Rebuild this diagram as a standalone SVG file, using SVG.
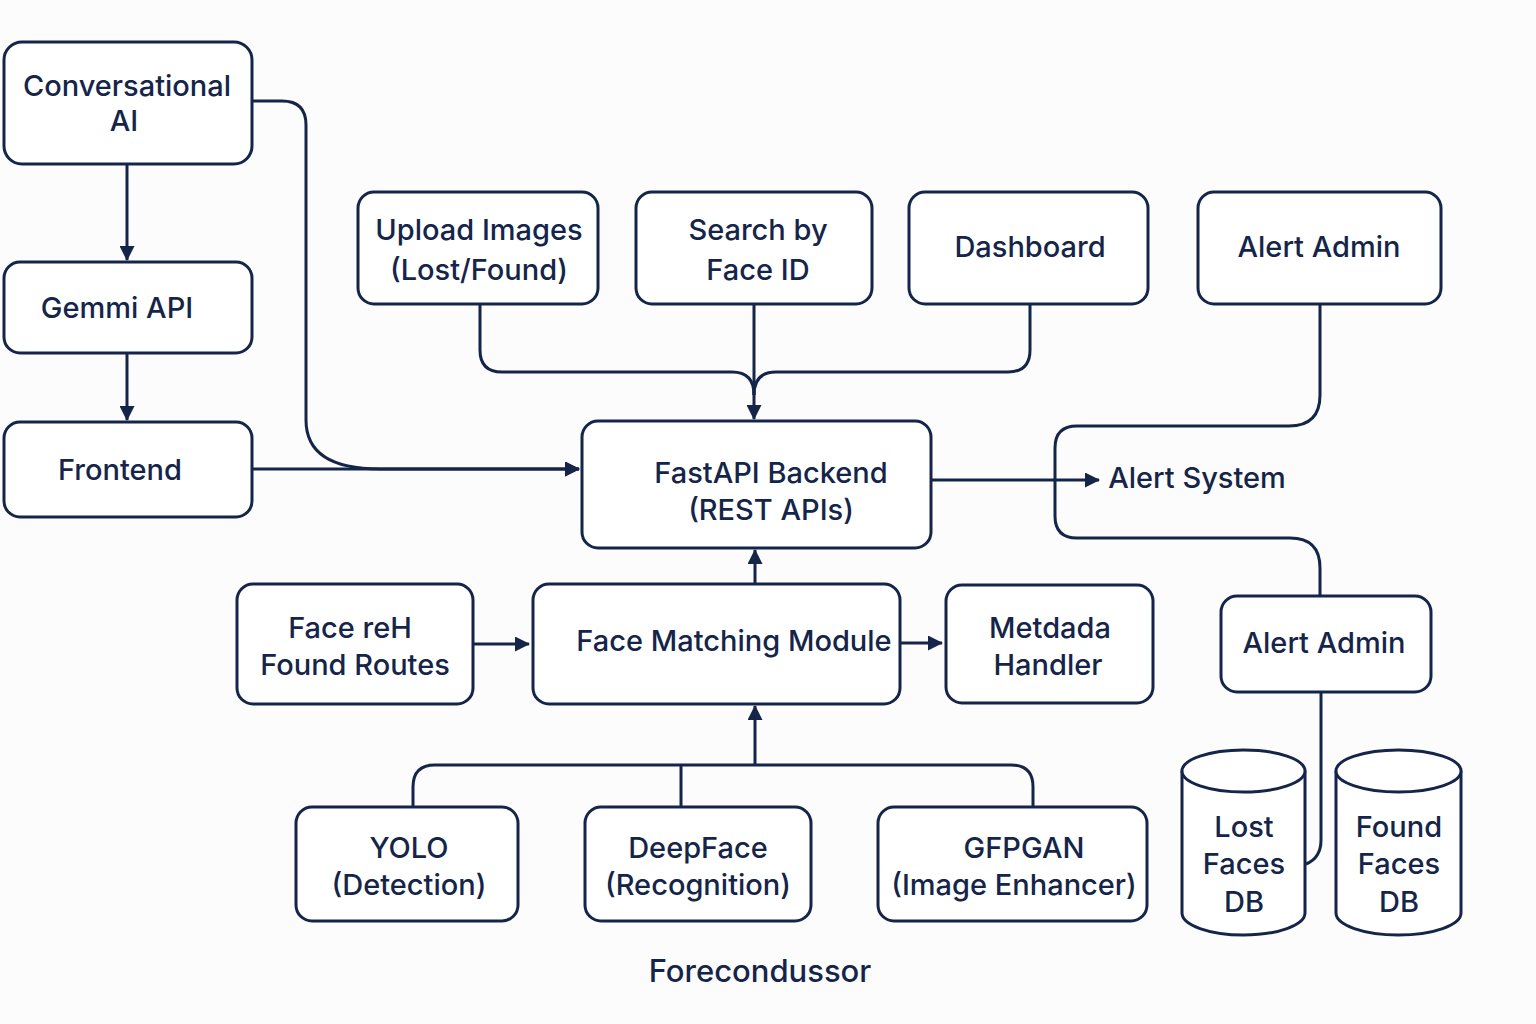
<svg xmlns="http://www.w3.org/2000/svg" width="1536" height="1024" viewBox="0 0 1536 1024">
<style>
.box{fill:#ffffff;stroke:#15254a;stroke-width:3}
.ln{fill:none;stroke:#15254a;stroke-width:3}
.t{font-family:Inter,"Noto Sans","Liberation Sans",sans-serif;font-size:29px;font-weight:500;fill:#15254a;text-anchor:middle;dominant-baseline:central}
</style>
<defs>
<marker id="ah" viewBox="0 0 15 15" refX="14" refY="7.5" markerWidth="15" markerHeight="15" markerUnits="userSpaceOnUse" orient="auto">
<path d="M0,0 L15,7.5 L0,15 Z" fill="#15254a"/>
</marker>
</defs>
<rect width="1536" height="1024" fill="#fcfcfc"/>
<g id="connectors">
<path class="ln" d="M127,164 V260" marker-end="url(#ah)"/>
<path class="ln" d="M127,353 V420" marker-end="url(#ah)"/>
<path class="ln" d="M252,101 H282 Q306,101 306,125 V420 C306,455 335,469 380,469 H579" marker-end="url(#ah)"/>
<path class="ln" d="M252,469 H579" marker-end="url(#ah)"/>
<path class="ln" d="M480,304 V350 Q480,372 502,372 H732 Q754,372 754,395"/>
<path class="ln" d="M1030,304 V350 Q1030,372 1008,372 H776 Q754,372 754,395"/>
<path class="ln" d="M754,304 V419" marker-end="url(#ah)"/>
<path class="ln" d="M755,584 V550" marker-end="url(#ah)"/>
<path class="ln" d="M931,480 H1099" marker-end="url(#ah)"/>
<path class="ln" d="M1320,304 V395 Q1320,426 1289,426 H1077 Q1055,426 1055,448 V516 Q1055,538 1077,538 H1290 Q1320,538 1320,568 V596"/>
<path class="ln" d="M1321,692 V840 Q1321,858 1306,864"/>
<path class="ln" d="M473,644 H529" marker-end="url(#ah)"/>
<path class="ln" d="M900,643 H942" marker-end="url(#ah)"/>
<path class="ln" d="M755,765 V706" marker-end="url(#ah)"/>
<path class="ln" d="M413,807 V787 Q413,765 435,765 H1011 Q1033,765 1033,787 V807"/>
<path class="ln" d="M681,765 V807"/>
</g>
<g id="conversational-ai"><rect class="box" x="4" y="42" width="248" height="122" rx="18"/><text class="t" x="127" y="85">Conversational</text><text class="t" x="124" y="120">AI</text></g>
<g id="gemmi-api"><rect class="box" x="4" y="262" width="248" height="91" rx="16"/><text class="t" x="117" y="307">Gemmi API</text></g>
<g id="frontend"><rect class="box" x="4" y="422" width="248" height="95" rx="16"/><text class="t" x="120" y="469">Frontend</text></g>
<g id="upload-images"><rect class="box" x="358" y="192" width="240" height="112" rx="16"/><text class="t" x="479" y="229">Upload Images</text><text class="t" x="479" y="269">(Lost/Found)</text></g>
<g id="search-face-id"><rect class="box" x="636" y="192" width="236" height="112" rx="16"/><text class="t" x="758" y="229">Search by</text><text class="t" x="758" y="269">Face ID</text></g>
<g id="dashboard"><rect class="box" x="909" y="192" width="239" height="112" rx="16"/><text class="t" x="1030" y="246">Dashboard</text></g>
<g id="alert-admin-top"><rect class="box" x="1198" y="192" width="243" height="112" rx="16"/><text class="t" x="1319" y="246">Alert Admin</text></g>
<g id="fastapi-backend"><rect class="box" x="582" y="421" width="349" height="127" rx="16"/><text class="t" x="771" y="472">FastAPI Backend</text><text class="t" x="771" y="509">(REST APIs)</text></g>
<g id="alert-system"><text class="t" x="1197" y="477">Alert System</text></g>
<g id="face-routes"><rect class="box" x="237" y="584" width="236" height="120" rx="16"/><text class="t" x="350" y="627">Face reH</text><text class="t" x="355" y="664">Found Routes</text></g>
<g id="face-matching"><rect class="box" x="533" y="584" width="367" height="120" rx="16"/><text class="t" x="734" y="640">Face Matching Module</text></g>
<g id="metadata-handler"><rect class="box" x="946" y="585" width="207" height="118" rx="16"/><text class="t" x="1050" y="627">Metdada</text><text class="t" x="1048" y="664">Handler</text></g>
<g id="alert-admin-bottom"><rect class="box" x="1221" y="596" width="210" height="96" rx="16"/><text class="t" x="1324" y="642">Alert Admin</text></g>
<g id="lost-faces-db"><path class="box" d="M1182,771 V913 A61.5,22 0 0 0 1305,913 V771"/><ellipse class="box" cx="1243.5" cy="771" rx="61.5" ry="21"/><text class="t" x="1244" y="826">Lost</text><text class="t" x="1244" y="863">Faces</text><text class="t" x="1244" y="901">DB</text></g>
<g id="found-faces-db"><path class="box" d="M1336,771 V913 A62.5,22 0 0 0 1461,913 V771"/><ellipse class="box" cx="1398.5" cy="771" rx="62.5" ry="21"/><text class="t" x="1399" y="826">Found</text><text class="t" x="1399" y="863">Faces</text><text class="t" x="1399" y="901">DB</text></g>
<g id="yolo"><rect class="box" x="296" y="807" width="222" height="114" rx="16"/><text class="t" x="409" y="847">YOLO</text><text class="t" x="409" y="884">(Detection)</text></g>
<g id="deepface"><rect class="box" x="585" y="807" width="226" height="114" rx="16"/><text class="t" x="698" y="847">DeepFace</text><text class="t" x="698" y="884">(Recognition)</text></g>
<g id="gfpgan"><rect class="box" x="878" y="807" width="269" height="114" rx="16"/><text class="t" x="1024" y="847">GFPGAN</text><text class="t" x="1014" y="884">(Image Enhancer)</text></g>
<g id="caption"><text class="t" x="760" y="970" style="font-size:31px">Forecondussor</text></g>
</svg>
